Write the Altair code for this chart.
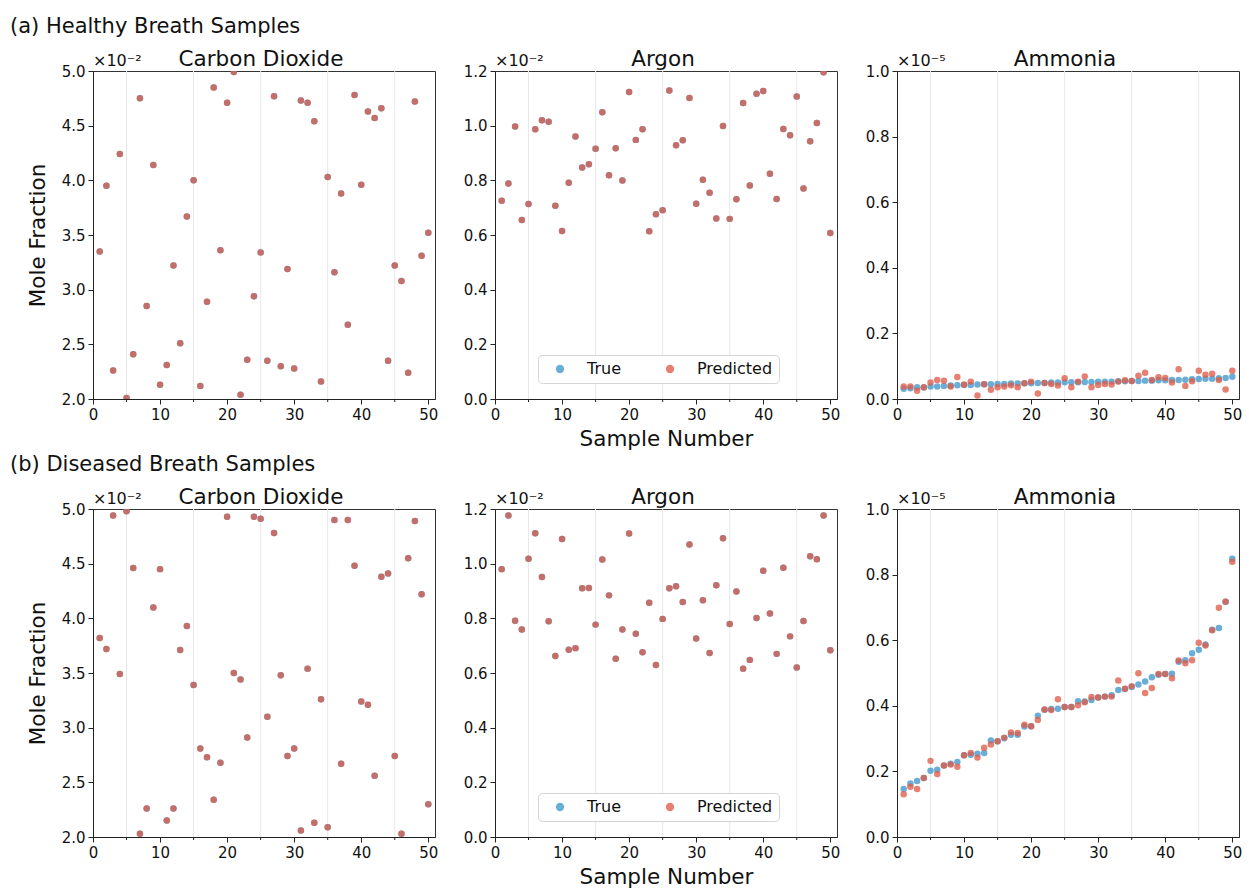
import altair as alt
import pandas as pd

# ---------------- data (values in the units shown on each axis) ----------------
samples = list(range(1, 51))
series = ["True", "Predicted"]
series_colors = ["#4097cd", "#de5c4a"]

x_ticks = [0, 10, 20, 30, 40, 50]
x_minor = [5, 15, 25, 35, 45]
co2_ticks = [2.0, 2.5, 3.0, 3.5, 4.0, 4.5, 5.0]
ar_ticks = [0.0, 0.2, 0.4, 0.6, 0.8, 1.0, 1.2]
nh3_ticks = [0.0, 0.2, 0.4, 0.6, 0.8, 1.0]

# (a) healthy, CO2 (x1e-2): true and predicted coincide
h_co2 = [3.35, 3.95, 2.26, 4.24, 2.01, 2.41, 4.75, 2.85, 4.14, 2.13,
         2.31, 3.22, 2.51, 3.67, 4.00, 2.12, 2.89, 4.85, 3.36, 4.71,
         4.99, 2.04, 2.36, 2.94, 3.34, 2.35, 4.77, 2.30, 3.19, 2.28,
         4.73, 4.71, 4.54, 2.16, 4.03, 3.16, 3.88, 2.68, 4.78, 3.96,
         4.63, 4.57, 4.66, 2.35, 3.22, 3.08, 2.24, 4.72, 3.31, 3.52]
# (a) healthy, Argon (x1e-2)
h_ar = [0.725, 0.788, 0.997, 0.655, 0.713, 0.987, 1.020, 1.014, 0.707, 0.615,
        0.791, 0.960, 0.847, 0.859, 0.916, 1.049, 0.819, 0.917, 0.799, 1.123,
        0.948, 0.987, 0.614, 0.676, 0.691, 1.129, 0.928, 0.947, 1.101, 0.714,
        0.802, 0.755, 0.660, 0.999, 0.659, 0.731, 1.083, 0.781, 1.117, 1.127,
        0.824, 0.732, 0.988, 0.965, 1.107, 0.770, 0.943, 1.010, 1.195, 0.607]
# (a) healthy, Ammonia (x1e-5)
h_nh3_true = [0.031, 0.033, 0.036, 0.035, 0.038, 0.038, 0.040, 0.041, 0.042, 0.043,
              0.043, 0.044, 0.045, 0.045, 0.046, 0.046, 0.047, 0.047, 0.048, 0.048,
              0.049, 0.049, 0.050, 0.050, 0.051, 0.051, 0.051, 0.052, 0.052, 0.053,
              0.053, 0.053, 0.054, 0.054, 0.055, 0.055, 0.056, 0.056, 0.057, 0.057,
              0.058, 0.058, 0.059, 0.060, 0.061, 0.062, 0.062, 0.063, 0.064, 0.068]
h_nh3_pred = [0.038, 0.038, 0.025, 0.036, 0.050, 0.058, 0.056, 0.038, 0.067, 0.044,
              0.053, 0.011, 0.045, 0.028, 0.036, 0.038, 0.042, 0.036, 0.048, 0.053,
              0.017, 0.049, 0.046, 0.041, 0.063, 0.036, 0.053, 0.069, 0.036, 0.043,
              0.046, 0.044, 0.053, 0.057, 0.055, 0.071, 0.080, 0.058, 0.066, 0.064,
              0.050, 0.091, 0.040, 0.054, 0.086, 0.074, 0.077, 0.058, 0.029, 0.086]

# (b) diseased, CO2 (x1e-2)
d_co2 = [3.82, 3.72, 4.94, 3.49, 4.98, 4.46, 2.03, 2.26, 4.10, 4.45,
         2.15, 2.26, 3.71, 3.93, 3.39, 2.81, 2.73, 2.34, 2.68, 4.93,
         3.50, 3.44, 2.91, 4.93, 4.91, 3.10, 4.78, 3.48, 2.74, 2.81,
         2.06, 3.54, 2.13, 3.26, 2.09, 4.90, 2.67, 4.90, 4.48, 3.24,
         3.21, 2.56, 4.38, 4.41, 2.74, 2.03, 4.55, 4.89, 4.22, 2.30]
# (b) diseased, Argon (x1e-2)
d_ar = [0.980, 1.176, 0.791, 0.759, 1.018, 1.111, 0.951, 0.789, 0.662, 1.090,
        0.685, 0.691, 0.910, 0.911, 0.777, 1.015, 0.884, 0.652, 0.759, 1.110,
        0.744, 0.676, 0.857, 0.629, 0.798, 0.910, 0.917, 0.860, 1.070, 0.726,
        0.866, 0.673, 0.921, 1.093, 0.779, 0.898, 0.616, 0.648, 0.801, 0.974,
        0.818, 0.670, 0.985, 0.734, 0.620, 0.790, 1.027, 1.016, 1.176, 0.683]
# (b) diseased, Ammonia (x1e-5)
d_nh3_true = [0.146, 0.163, 0.171, 0.180, 0.202, 0.205, 0.218, 0.223, 0.229, 0.249,
              0.251, 0.254, 0.256, 0.294, 0.292, 0.301, 0.312, 0.312, 0.337, 0.338,
              0.370, 0.388, 0.390, 0.391, 0.396, 0.396, 0.414, 0.413, 0.418, 0.425,
              0.428, 0.432, 0.448, 0.451, 0.457, 0.465, 0.474, 0.487, 0.495, 0.497,
              0.498, 0.534, 0.539, 0.560, 0.571, 0.587, 0.632, 0.637, 0.717, 0.848]
d_nh3_pred = [0.130, 0.153, 0.146, 0.180, 0.232, 0.192, 0.218, 0.221, 0.214, 0.249,
              0.256, 0.242, 0.272, 0.282, 0.292, 0.303, 0.319, 0.317, 0.342, 0.338,
              0.357, 0.389, 0.387, 0.420, 0.396, 0.396, 0.402, 0.411, 0.427, 0.425,
              0.428, 0.428, 0.477, 0.452, 0.460, 0.499, 0.439, 0.454, 0.497, 0.497,
              0.484, 0.538, 0.530, 0.539, 0.592, 0.584, 0.630, 0.699, 0.717, 0.839]

# ---------------- styling ----------------
W, H = 342, 328
FONT = "DejaVu Sans"
TXT = "#111111"
AX = "#222222"


def text_layer(txt, x, y, size, align="left"):
    return alt.Chart(pd.DataFrame({"t": [txt]})).mark_text(
        align=align, baseline="alphabetic", fontSize=size, font=FONT, color=TXT
    ).encode(x=alt.value(x), y=alt.value(y), text="t:N")


def panel(title, mult, true_vals, pred_vals, ydom, yticks,
          row_title=None, ytitle=None, xtitle=None, legend=False):
    df = pd.DataFrame({
        "sample": samples + samples,
        "value": list(true_vals) + list(pred_vals),
        "series": ["True"] * len(samples) + ["Predicted"] * len(samples),
    })
    xscale = alt.Scale(domain=[0, 51], nice=False, zero=False)
    xaxis = alt.Axis(values=x_ticks, format="d", title=xtitle, labelFlush=False,
                     titlePadding=6)
    yaxis = alt.Axis(values=yticks, format=".1f", title=ytitle, labelFlush=False,
                     titlePadding=12)
    x = alt.X("sample:Q", scale=xscale, axis=xaxis)

    grid = alt.Chart(pd.DataFrame({"sample": x_minor})).mark_rule(
        color="#e8e8e8", strokeWidth=1
    ).encode(x=x)

    minor = alt.Chart(pd.DataFrame({"sample": x_minor})).mark_rule(
        color=AX, strokeWidth=1
    ).encode(x=x, y=alt.value(H), y2=alt.value(H + 3))

    if legend:
        leg = alt.Legend(
            title=None, orient="none", legendX=43, legendY=284,
            direction="horizontal", fillColor="white", strokeColor="#d5d5d5",
            cornerRadius=4, padding=6, labelFontSize=16, labelFont=FONT,
            labelColor=TXT, symbolType="circle", symbolSize=70,
            symbolStrokeWidth=0, symbolOpacity=0.78, labelOffset=19,
            columnPadding=33, symbolOffset=8,
        )
    else:
        leg = None

    pts = alt.Chart(df).mark_circle(size=42, opacity=0.78, clip=True).encode(
        x=x,
        y=alt.Y("value:Q", scale=alt.Scale(domain=ydom, nice=False, zero=False),
                axis=yaxis),
        color=alt.Color("series:N",
                        scale=alt.Scale(domain=series, range=series_colors),
                        legend=leg),
    )

    layers = [grid, pts, minor,
              text_layer(title, W / 2 - 3, -5, 21.5, align="center"),
              text_layer(mult, 0, -5, 16)]
    if row_title:
        layers.append(text_layer(row_title, -83, -38, 21))
    return alt.layer(*layers).properties(width=W, height=H).resolve_scale(
        color="independent")


a1 = panel("Carbon Dioxide", "×10⁻²", h_co2, h_co2, [2.0, 5.0], co2_ticks,
           row_title="(a) Healthy Breath Samples", ytitle="Mole Fraction")
a2 = panel("Argon", "×10⁻²", h_ar, h_ar, [0.0, 1.2], ar_ticks,
           xtitle="Sample Number", legend=True)
a3 = panel("Ammonia", "×10⁻⁵", h_nh3_true, h_nh3_pred, [0.0, 1.0], nh3_ticks)

b1 = panel("Carbon Dioxide", "×10⁻²", d_co2, d_co2, [2.0, 5.0], co2_ticks,
           row_title="(b) Diseased Breath Samples", ytitle="Mole Fraction")
b2 = panel("Argon", "×10⁻²", d_ar, d_ar, [0.0, 1.2], ar_ticks,
           xtitle="Sample Number", legend=True)
b3 = panel("Ammonia", "×10⁻⁵", d_nh3_true, d_nh3_pred, [0.0, 1.0], nh3_ticks)

chart = alt.concat(
    a1, a2, a3, b1, b2, b3, columns=3,
    spacing={"row": 110, "column": 60}, bounds="flush",
).resolve_scale(
    x="independent", y="independent", color="independent"
).resolve_legend(color="independent").properties(
    padding={"left": 9, "top": 15, "right": 5, "bottom": 5},
    background="white",
).configure_view(
    stroke="#333333", strokeWidth=1
).configure_axis(
    grid=False, domainColor=AX, tickColor=AX, tickSize=5, labelFontSize=15,
    labelFont=FONT, labelColor=TXT, labelPadding=3, titleFont=FONT,
    titleFontSize=21.5, titleFontWeight="normal", titleColor=TXT,
)

chart.save("out.html", embed_options={"renderer": "svg", "actions": False})
